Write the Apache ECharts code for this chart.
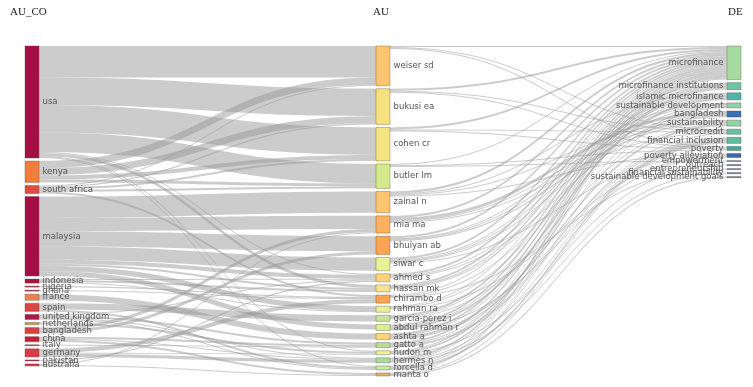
<!DOCTYPE html>
<html>
<head>
<meta charset="utf-8">
<script src="https://cdn.jsdelivr.net/npm/echarts@6/dist/echarts.min.js"></script>
<style>html,body{margin:0;padding:0;background:#fff}#c{width:753px;height:387px}</style>
</head>
<body>
<div id="c"></div>
<script>
// ---- data ----
const columnTitles = ['AU_CO', 'AU', 'DE'];
const countries = ['usa','kenya','south africa','malaysia','indonesia','nigeria','ghana','france','spain',
  'united kingdom','netherlands','bangladesh','china','italy','germany','pakistan','australia'];
const authors = ['weiser sd','bukusi ea','cohen cr','butler lm','zainal n','mia ma','bhuiyan ab','siwar c',
  'ahmed s','hassan mk','chirambo d','rahman ra','garcia-perez i','abdul rahman r','ashta a','gatto a',
  'hudon m','hermes n','forcella d','manta o'];
const keywords = ['microfinance','microfinance institutions','islamic microfinance','sustainable development',
  'bangladesh','sustainability','microcredit','financial inclusion','poverty','poverty alleviation',
  'empowerment','outreach','entrepreneurship','financial sustainability','sustainable development goals'];

// country -> author [source, target, value]
const countryAuthorLinks = [
  ['usa','weiser sd',31],['usa','bukusi ea',27],['usa','cohen cr',27],['usa','butler lm',19],
  ['usa','ahmed s',1],['usa','hassan mk',3],['usa','hudon m',1],['usa','forcella d',1],
  ['kenya','weiser sd',7],['kenya','bukusi ea',7],['kenya','cohen cr',4],['kenya','butler lm',3],
  ['south africa','weiser sd',1],['south africa','bukusi ea',1],['south africa','cohen cr',2],
  ['south africa','butler lm',2],['south africa','chirambo d',2],
  ['malaysia','zainal n',21],['malaysia','mia ma',13],['malaysia','bhuiyan ab',15],['malaysia','siwar c',13],
  ['malaysia','ahmed s',4],['malaysia','hassan mk',2],['malaysia','rahman ra',5],['malaysia','abdul rahman r',5],
  ['indonesia','hassan mk',2],['indonesia','ahmed s',1],['indonesia','rahman ra',1],
  ['nigeria','chirambo d',1],['ghana','chirambo d',1],
  ['france','ashta a',6],
  ['spain','garcia-perez i',6],['spain','forcella d',2],
  ['united kingdom','ahmed s',1],['united kingdom','gatto a',2],['united kingdom','hermes n',1],['united kingdom','forcella d',1],
  ['netherlands','hudon m',2],
  ['bangladesh','mia ma',3],['bangladesh','bhuiyan ab',3],
  ['china','gatto a',2],['china','hermes n',1],['china','manta o',2],
  ['italy','gatto a',1],
  ['germany','chirambo d',4],['germany','hudon m',1],['germany','hermes n',3],
  ['pakistan','ahmed s',1],['australia','mia ma',1],['australia','manta o',1]
];

// author -> keyword [source, target, value]
const authorKeywordLinks = [
  ['weiser sd','microfinance',1],['weiser sd','microcredit',1],['weiser sd','poverty',1],
  ['bukusi ea','microfinance',2],['bukusi ea','microcredit',1],['bukusi ea','poverty',1],
  ['cohen cr','microfinance',2],['cohen cr','microcredit',1],['cohen cr','poverty',1],
  ['butler lm','microfinance',1],['butler lm','poverty',1],['butler lm','empowerment',1],
  ['zainal n','microfinance',2],['zainal n','islamic microfinance',1],['zainal n','sustainability',1],['zainal n','poverty alleviation',1],
  ['mia ma','microfinance',2],['mia ma','bangladesh',3],['mia ma','sustainability',1],['mia ma','microcredit',1],
  ['bhuiyan ab','microfinance',2],['bhuiyan ab','sustainable development',1],['bhuiyan ab','bangladesh',1],['bhuiyan ab','sustainability',1],
  ['siwar c','microfinance',2],['siwar c','islamic microfinance',1],['siwar c','sustainable development',1],['siwar c','bangladesh',1],['siwar c','poverty alleviation',1],
  ['ahmed s','microfinance',2],['ahmed s','islamic microfinance',1],['ahmed s','bangladesh',1],
  ['hassan mk','microfinance',2],['hassan mk','microfinance institutions',1],['hassan mk','islamic microfinance',1],
  ['chirambo d','microfinance',1],['chirambo d','sustainable development',1],['chirambo d','entrepreneurship',1],
  ['rahman ra','microfinance',1],['rahman ra','islamic microfinance',1],['rahman ra','poverty alleviation',1],
  ['garcia-perez i','microfinance',2],['garcia-perez i','microfinance institutions',1],['garcia-perez i','sustainability',1],
  ['abdul rahman r','microfinance',2],['abdul rahman r','microfinance institutions',1],['abdul rahman r','islamic microfinance',2],['abdul rahman r','poverty alleviation',1],
  ['ashta a','microfinance',2],['ashta a','microfinance institutions',1],['ashta a','sustainability',2],['ashta a','financial inclusion',1],
  ['gatto a','microfinance',2],['gatto a','sustainable development',1],['gatto a','microcredit',1],['gatto a','financial inclusion',1],
  ['hudon m','microfinance',1],['hudon m','microfinance institutions',2],['hudon m','outreach',1],
  ['hermes n','microfinance',2],['hermes n','microfinance institutions',1],['hermes n','financial inclusion',1],['hermes n','financial sustainability',1],
  ['forcella d','microfinance',1],['forcella d','sustainable development',1],['forcella d','financial inclusion',2],
  ['manta o','microfinance',1],['manta o','financial inclusion',1],['manta o','sustainable development goals',1]
];

// ---- styles ----
const countryColors = ['#a50f45','#f47d3c','#e04a3f','#a50f45','#a8123f','#b01a45','#b01a45','#f08050','#df4540',
  '#b0164a','#e8845a','#d9403f','#c0203f','#b8244a','#da3a45','#b01a45','#d23a48'];
const authorColors = ['#fdc571','#f6e07f','#f5e483','#d3ea8c','#fdc571','#fdb05f','#fca452','#e6f29a',
  '#fed477','#f5e58a','#fca452','#e6f29a','#c5e39a','#dcee90','#fed477','#b5dd98','#e6f29a','#aadca0','#c7e8a0','#e6ae6b'];
const keywordColors = ['#a6dba0','#6cc4a4','#4db6a8','#8fd3a8','#3b6fb6','#8fd3a8','#66c2a5','#5dbb9e','#45a897',
  '#3b6aa8','#5a7aaa','#3c5f94','#5e6f9c','#4b6a9a','#596c8a'];

const prefixes = ['C|','A|','K|'];
const nodes = [];
countries.forEach((n,i)=>nodes.push({name:prefixes[0]+n, itemStyle:{color:countryColors[i]}}));
authors.forEach((n,i)=>nodes.push({name:prefixes[1]+n, itemStyle:{color:authorColors[i]}}));
keywords.forEach((n,i)=>nodes.push({name:prefixes[2]+n, itemStyle:{color:keywordColors[i]}, label:{position:'left'}}));
const links = [];
countryAuthorLinks.forEach(l=>links.push({source:prefixes[0]+l[0], target:prefixes[1]+l[1], value:l[2]}));
authorKeywordLinks.forEach(l=>links.push({source:prefixes[1]+l[0], target:prefixes[2]+l[1], value:l[2]}));

const chart = echarts.init(document.getElementById('c'));
const titleStyle = {fontFamily:'Liberation Serif', fontSize:11, color:'#222', fontWeight:'normal'};
chart.setOption({
  animation:false,
  title:[
    {text:columnTitles[0], left:5, top:2, textStyle:titleStyle},
    {text:columnTitles[1], left:368, top:2, textStyle:titleStyle},
    {text:columnTitles[2], left:723, top:2, textStyle:titleStyle}
  ],
  series:[{
    type:'sankey',
    left:25, right:12, top:46, bottom:11,
    nodeWidth:14, nodeGap:3,
    layoutIterations:0,
    draggable:false,
    emphasis:{disabled:true},
    data:nodes,
    links:links,
    itemStyle:{borderWidth:1, borderColor:'rgba(90,70,50,0.35)'},
    lineStyle:{color:'#999999', opacity:0.5, curveness:0.5},
    label:{
      position:'right', distance:3,
      fontFamily:'DejaVu Sans', fontSize:8.5, color:'#555',
      formatter:p=>p.name.slice(2)
    }
  }]
});
</script>
</body>
</html>
